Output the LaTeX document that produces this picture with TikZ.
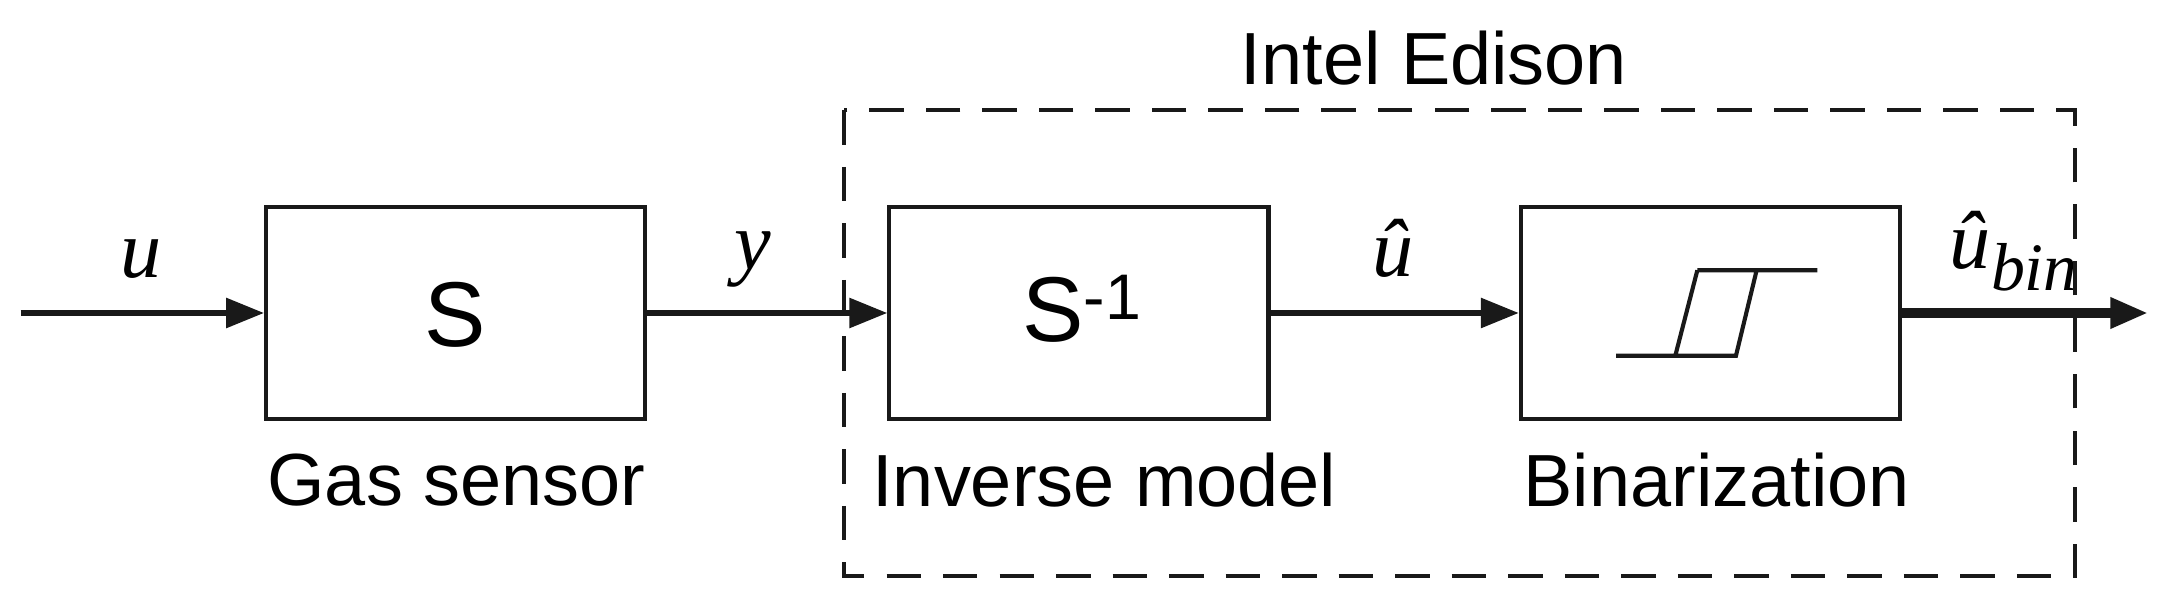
\documentclass[tikz,border=0pt]{standalone}
\usepackage{fontspec}
\setmainfont{Liberation Sans}
\newfontfamily\tms{Liberation Serif}
\usetikzlibrary{arrows.meta}
\begin{document}
\begin{tikzpicture}[x=0.02cm,y=-0.02cm,
  blk/.style={draw=black!90,line width=1.7pt,minimum width=5.5cm,minimum height=3.08cm,inner sep=0pt},
  sig/.style={line width=2.4pt,black!90,-{Triangle[length=0.55cm,width=0.42cm]}},
  lab/.style={font=\fontsize{30.5}{34}\selectfont},
  ml/.style={font=\tms\itshape\fontsize{34}{36}\selectfont,inner sep=1pt}]
\useasboundingbox (0,0) rectangle (1568,439);
\node[blk] (s) at (330.5,227) {};
\node[blk] (si) at (782.5,227) {};
\node[blk] (b) at (1240.5,227) {};
\node[font=\fontsize{38}{40}\selectfont] (st) at (330,228) {S};
\node[font=\fontsize{38}{40}\selectfont] (sit) at (785,224) {S\textsuperscript{-1}};
\node[lab] (g) at (331,348) {Gas sensor};
\node[lab] (im) at (801,348) {Inverse model};
\node[lab] (bz) at (1245,348) {Binarization};
\node[lab] (ie) at (1040,42) {Intel Edison};
\coordinate (in) at (15,227);
\coordinate (out) at (1558,227);
\draw[sig] (in) -- (s.west);
\draw[sig] (s.east) -- (si.west);
\draw[sig] (si.east) -- (b.west);
\draw[line width=4pt,black!90,-{Triangle[length=0.55cm,width=0.42cm]}] (b.east) -- (out);
\node[ml] (lu) at (102,188) {u};
\node[ml] (ly) at (546,188) {y};
\node[ml] (luh) at (1010,180) {\^{u}};
\node[ml,anchor=west] (lub) at (1412,182) {\^{u}\raisebox{-9pt}{\fontsize{28}{30}\selectfont bin}};
\draw[black!90,line width=1.7pt,dash pattern=on 0.5cm off 0.32cm] (612,80) rectangle (1505,418);
\draw[black!90,line width=1.7pt] (1172,258) -- (1259,258) -- (1274,196) (1231,196) -- (1318,196) (1215,258) -- (1231,196);
\end{tikzpicture}
\end{document}
